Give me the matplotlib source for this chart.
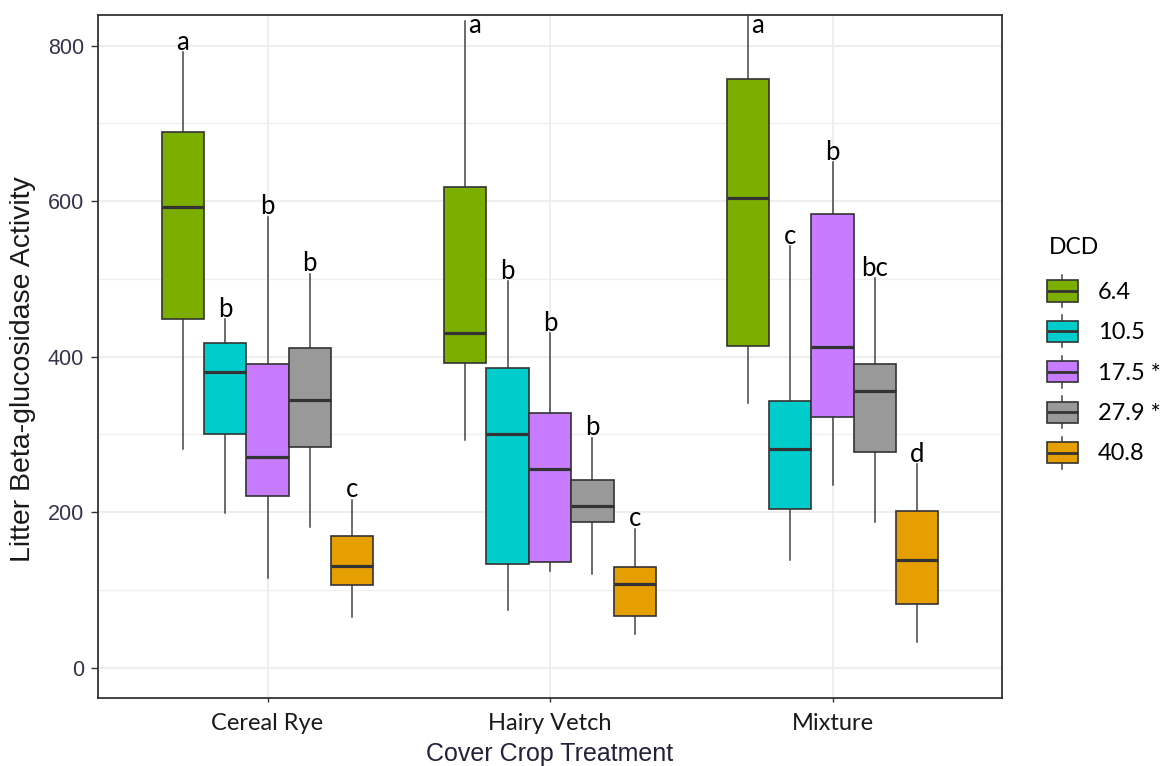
import matplotlib
matplotlib.use('Agg')
import matplotlib.pyplot as plt
from matplotlib.legend_handler import HandlerBase
from matplotlib.patches import Patch, Rectangle
from matplotlib.lines import Line2D
from matplotlib.ticker import MultipleLocator

# ============================================================
# DATA
# ============================================================
treatments = ["Cereal Rye", "Hairy Vetch", "Mixture"]
dcd_levels = ["6.4", "10.5", "17.5 *", "27.9 *", "40.8"]
colors = ["#7CAE00", "#00CCCC", "#C77CFF", "#999999", "#E69F00"]

# per treatment, one value per DCD level
whisk_lo = [[281, 199, 115, 181, 65],
            [293, 74, 125, 121, 43],
            [340, 139, 235, 188, 33]]
q1 = [[448, 300, 221, 284, 106],
      [392, 134, 136, 187, 66],
      [414, 204, 322, 277, 82]]
med = [[592, 380, 271, 344, 131],
       [431, 301, 256, 208, 108],
       [604, 281, 413, 356, 138]]
q3 = [[689, 418, 391, 411, 170],
      [618, 386, 327, 241, 129],
      [757, 343, 584, 391, 202]]
whisk_hi = [[792, 448, 580, 507, 216],
            [832, 497, 430, 296, 179],
            [870, 542, 650, 501, 262]]
letters = [["a", "b", "b", "b", "c"],
           ["a", "b", "b", "b", "c"],
           ["a", "c", "b", "bc", "d"]]

Y_MIN, Y_MAX = -38.6, 839.5
DODGE = 0.15
EDGE = "#333333"
LATO = ['Lato', 'DejaVu Sans']

plt.rcParams['font.family'] = ['Liberation Sans', 'DejaVu Sans']

fig = plt.figure(figsize=(11.67, 7.66), dpi=100)
ax = fig.add_axes([98 / 1167, 1 - 697.7 / 766, 904 / 1167, 682.7 / 766])

# ============================================================
# BOXES
# ============================================================
for g, name in enumerate(treatments):
    for i, col in enumerate(colors):
        st = dict(whislo=whisk_lo[g][i], q1=q1[g][i], med=med[g][i],
                  q3=q3[g][i], whishi=whisk_hi[g][i], fliers=[])
        pos = g + 1 + (i - 2) * DODGE
        bp = ax.bxp([st], positions=[pos], widths=DODGE, patch_artist=True,
                    showfliers=False, showcaps=False, manage_ticks=False,
                    boxprops=dict(facecolor=col, edgecolor=EDGE, linewidth=1.2),
                    medianprops=dict(color=EDGE, linewidth=2.3, solid_capstyle='butt'),
                    whiskerprops=dict(color="#444444", linewidth=1.1))
        for b in bp['boxes']:
            b.set_zorder(3)
        for m in bp['medians']:
            m.set_zorder(4)

        hi = whisk_hi[g][i]
        if hi > 810:
            ax.text(pos + 0.033, 826, letters[g][i], ha='center', va='center',
                    fontsize=18.5, family=LATO, color='black')
        else:
            ax.text(pos, hi + 3, letters[g][i], ha='center', va='baseline',
                    fontsize=18.5, family=LATO, color='black')

# ============================================================
# AXES STYLE (theme_bw look)
# ============================================================
ax.set_xlim(0.4, 3.6)
ax.set_ylim(Y_MIN, Y_MAX)
ax.set_xticks([1, 2, 3])
ax.set_xticklabels(treatments, fontsize=17, family=LATO, color='#1a1a1a')
ax.yaxis.set_major_locator(MultipleLocator(200))
ax.yaxis.set_minor_locator(MultipleLocator(100))
ax.tick_params(axis='y', which='major', length=5, width=1.0, color=EDGE, pad=5,
               labelsize=15.5, labelcolor='#34344a')
ax.tick_params(axis='y', which='minor', length=0)
ax.tick_params(axis='x', length=3, width=1.0, color=EDGE, pad=8)
ax.grid(which='major', color='#EBEBEB', linewidth=1.2, zorder=0)
ax.grid(which='minor', axis='y', color='#EFEFEF', linewidth=0.9, zorder=0)
ax.set_axisbelow(True)
for sp in ax.spines.values():
    sp.set_color(EDGE)
    sp.set_linewidth(1.3)

fig.text(550 / 1167, 1 - 761 / 766, "Cover Crop Treatment", ha='center', va='baseline',
         fontsize=18, color='#22223a')
fig.text(23 / 1167, 1 - 369 / 766, "Litter Beta-glucosidase Activity", ha='center',
         va='center', rotation=90, fontsize=20.5, color='#1a1a1a')


# ============================================================
# LEGEND with box-shaped keys
# ============================================================
class BoxKey(HandlerBase):
    def create_artists(self, legend, orig_handle, xdescent, ydescent,
                       width, height, fontsize, trans):
        fc = orig_handle.get_facecolor()
        x0, y0 = -xdescent, -ydescent
        bh = height * 0.66
        by = y0 + (height - bh) / 2
        xc = x0 + width / 2
        wl = Line2D([xc, xc], [y0, y0 + height], color="#444444", lw=1.1, transform=trans)
        rect = Rectangle((x0, by), width, bh, facecolor=fc, edgecolor=EDGE,
                         lw=1.2, transform=trans)
        ml = Line2D([x0, x0 + width], [by + bh / 2] * 2, color=EDGE, lw=2.0,
                    solid_capstyle='butt', transform=trans)
        return [wl, rect, ml]


fig.text(1049 / 1167, 1 - 237 / 766, "DCD", ha='left', va='top',
         fontsize=16.5, family=LATO, color='black')

handles = [Patch(facecolor=c) for c in colors]
leg = fig.legend(handles, dcd_levels, handler_map={Patch: BoxKey()},
                 loc='upper left', bbox_to_anchor=(1047 / 1167, 1 - 275 / 766),
                 frameon=False, borderpad=0, borderaxespad=0,
                 handlelength=1.31, handleheight=1.705, handletextpad=0.85,
                 labelspacing=0.36, prop={'family': LATO, 'size': 17})

fig.savefig('out.png', dpi=100)
